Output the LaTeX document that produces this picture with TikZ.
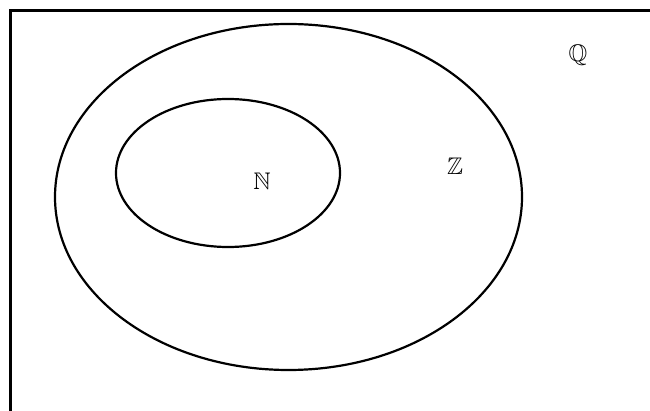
\documentclass[tikz,border=0pt]{standalone}
\usepackage{amssymb}
\begin{document}
\begin{tikzpicture}[x=1pt,y=-1pt,
  setline/.style={draw=black,line width=2.2pt},
  frameline/.style={draw=black,line width=2.8pt},
  setlabel/.style={font=\fontsize{24}{28}\selectfont,inner sep=0pt}]
\useasboundingbox (0,0) rectangle (650,411);
\clip (0,0) rectangle (650,411);
\draw[frameline] (10.5,10.5) rectangle (680,440);
\draw[setline] (288.5,197) ellipse [x radius=233.5, y radius=173];
\draw[setline] (228,173) ellipse [x radius=112, y radius=74];
\node[setlabel] (N) at (262,181) {$\mathbb{N}$};
\node[setlabel] (Z) at (455,166) {$\mathbb{Z}$};
\node[setlabel] (Q) at (578,55) {$\mathbb{Q}$};
\end{tikzpicture}
\end{document}
